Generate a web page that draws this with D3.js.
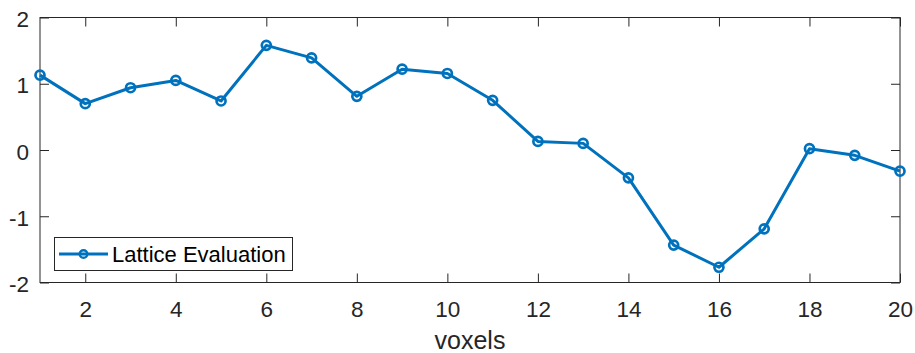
<!DOCTYPE html>
<html>
<head>
<meta charset="utf-8">
<script src="https://cdn.jsdelivr.net/npm/d3@7"></script>
<style>
  body { margin: 0; background: #fff; }
  svg { display: block; font-family: "Liberation Sans", Arial, sans-serif; }
</style>
</head>
<body>
<svg id="chart" width="915" height="353"></svg>
<script>
// voxel index and evaluated lattice value
const voxels = d3.range(1, 21);
const values = [1.13, 0.70, 0.94, 1.05, 0.74, 1.58, 1.39, 0.81, 1.22, 1.155,
                0.75, 0.13, 0.10, -0.42, -1.435, -1.77, -1.19, 0.02, -0.08, -0.32];
const xTicks = [2, 4, 6, 8, 10, 12, 14, 16, 18, 20];
const yTicks = [-2, -1, 0, 1, 2];
const seriesName = "Lattice Evaluation";
const xLabel = "voxels";

const svg = d3.select("#chart");
const m = {left: 40, top: 17.5, right: 900, bottom: 282.5};
const axisColor = "#262626", lineColor = "#0072BD";

const x = d3.scaleLinear().domain([1, 20]).range([m.left, m.right]);
const y = d3.scaleLinear().domain([-2, 2]).range([m.bottom, m.top]);

const tickLen = 9;
const g = svg.append("g");

// axis box
g.append("rect")
    .attr("x", m.left).attr("y", m.top)
    .attr("width", m.right - m.left).attr("height", m.bottom - m.top)
    .attr("fill", "none").attr("stroke", axisColor).attr("stroke-width", 1);

// ticks pointing inward on all four sides
const fmt = d => String(d);
const axB = d3.axisBottom(x).tickValues(xTicks).tickSize(-tickLen).tickPadding(19).tickFormat(fmt).tickSizeOuter(0);
const axT = d3.axisTop(x).tickValues(xTicks).tickSize(-tickLen).tickFormat("").tickSizeOuter(0);
const axL = d3.axisLeft(y).tickValues(yTicks).tickSize(-tickLen).tickPadding(11).tickFormat(fmt).tickSizeOuter(0);
const axR = d3.axisRight(y).tickValues(yTicks).tickSize(-tickLen).tickFormat("").tickSizeOuter(0);

function style(sel) {
    sel.select(".domain").remove();
    sel.selectAll("line").attr("stroke", axisColor);
    sel.selectAll("text").attr("fill", axisColor).style("font-size", "22.5px")
        .attr("font-family", "Liberation Sans, Arial, sans-serif");
}
g.append("g").attr("transform", `translate(0,${m.bottom})`).call(axB).call(style);
g.append("g").attr("transform", `translate(0,${m.top})`).call(axT).call(style);
g.append("g").attr("transform", `translate(${m.left},0)`).call(axL).call(style)
    .selectAll("text").attr("dy", "0.4em");
g.append("g").attr("transform", `translate(${m.right},0)`).call(axR).call(style);

// x label
g.append("text")
    .attr("x", (m.left + m.right) / 2).attr("y", 349)
    .attr("text-anchor", "middle")
    .attr("fill", axisColor).style("font-size", "25px")
    .text(xLabel);

// series
const pts = voxels.map((v, i) => [v, values[i]]);
const line = d3.line().x(d => x(d[0])).y(d => y(d[1]));
g.append("path")
    .attr("d", line(pts))
    .attr("fill", "none").attr("stroke", lineColor)
    .attr("stroke-width", 3).attr("stroke-linejoin", "round");
g.selectAll("circle.pt").data(pts).enter().append("circle")
    .attr("class", "pt")
    .attr("cx", d => x(d[0])).attr("cy", d => y(d[1]))
    .attr("r", 4.5)
    .attr("fill", "none").attr("stroke", lineColor).attr("stroke-width", 2.7);

// legend
const lg = g.append("g");
lg.append("rect")
    .attr("x", 54.5).attr("y", 237.5).attr("width", 238).attr("height", 33)
    .attr("fill", "#fff").attr("stroke", axisColor).attr("stroke-width", 1);
lg.append("line")
    .attr("x1", 59).attr("x2", 108).attr("y1", 254).attr("y2", 254)
    .attr("stroke", lineColor).attr("stroke-width", 3);
lg.append("circle")
    .attr("cx", 83.5).attr("cy", 254).attr("r", 3.8)
    .attr("fill", "none").attr("stroke", lineColor).attr("stroke-width", 2.4);
lg.append("text")
    .attr("x", 112).attr("y", 262)
    .attr("fill", "#000").style("font-size", "22px")
    .text(seriesName);
</script>
</body>
</html>
